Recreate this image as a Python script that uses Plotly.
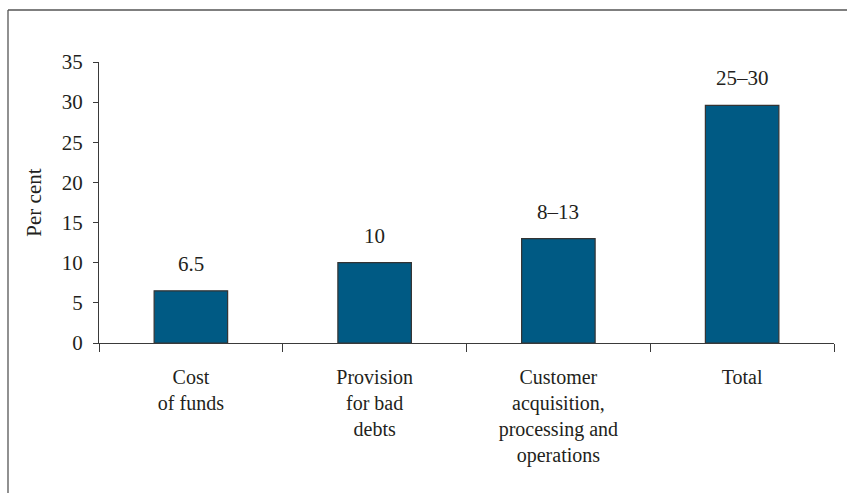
import plotly.graph_objects as go

categories = ["Cost<br>of funds", "Provision<br>for bad<br>debts",
              "Customer<br>acquisition,<br>processing and<br>operations", "Total"]
values = [6.5, 10, 13, 29.6]
value_labels = ["6.5", "10", "8–13", "25–30"]
y_ticks = [0, 5, 10, 15, 20, 25, 30, 35]

FONT = "Liberation Serif, Times New Roman, serif"
TXT = "#231f20"
AX = "#3a3a3a"

fig = go.Figure()
fig.add_trace(go.Bar(
    x=categories, y=values, width=0.4,
    marker=dict(color="#005a84", line=dict(color="#333333", width=1.2)),
    hoverinfo="skip",
))

for c, v, t in zip(categories, values, value_labels):
    fig.add_annotation(x=c, y=v, text=t, showarrow=False, yanchor="bottom",
                       yshift=13, font=dict(family=FONT, size=21, color=TXT))

fig.update_layout(
    width=847, height=493,
    margin=dict(l=99, r=13, t=62, b=150),
    paper_bgcolor="white", plot_bgcolor="white",
    showlegend=False,
    font=dict(family=FONT, size=21, color=TXT),
    bargap=0.6,
)
fig.update_xaxes(
    showline=True, linecolor=AX, linewidth=1.3,
    ticks="outside", ticklen=8, tickcolor=AX, tickwidth=1.3,
    tickson="boundaries", showgrid=False, zeroline=False,
    ticklabelstandoff=16,
    tickfont=dict(family=FONT, size=20, color=TXT),
)
fig.update_yaxes(
    range=[0, 35], tickvals=y_ticks,
    showline=True, linecolor=AX, linewidth=1.3,
    ticks="outside", ticklen=5, tickcolor=AX, tickwidth=1.3,
    showgrid=False, zeroline=False,
    ticklabelstandoff=6,
    tickfont=dict(family=FONT, size=21, color=TXT),
    title=dict(text="Per cent", standoff=14, font=dict(family=FONT, size=21, color=TXT)),
)

# frame around the figure (left and top edges visible)
fig.add_shape(type="line", xref="paper", yref="paper",
              x0=(8 - 99) / 735, x1=(8 - 99) / 735, y0=(343 - 493) / 281, y1=(343 - 10) / 281,
              line=dict(color="#555555", width=1.3))
fig.add_shape(type="line", xref="paper", yref="paper",
              x0=(8 - 99) / 735, x1=(847 - 99) / 735, y0=(343 - 10) / 281, y1=(343 - 10) / 281,
              line=dict(color="#555555", width=1.3))

fig.write_html("out.html", config={"displayModeBar": False},
               post_script="document.body.style.margin='0';")
